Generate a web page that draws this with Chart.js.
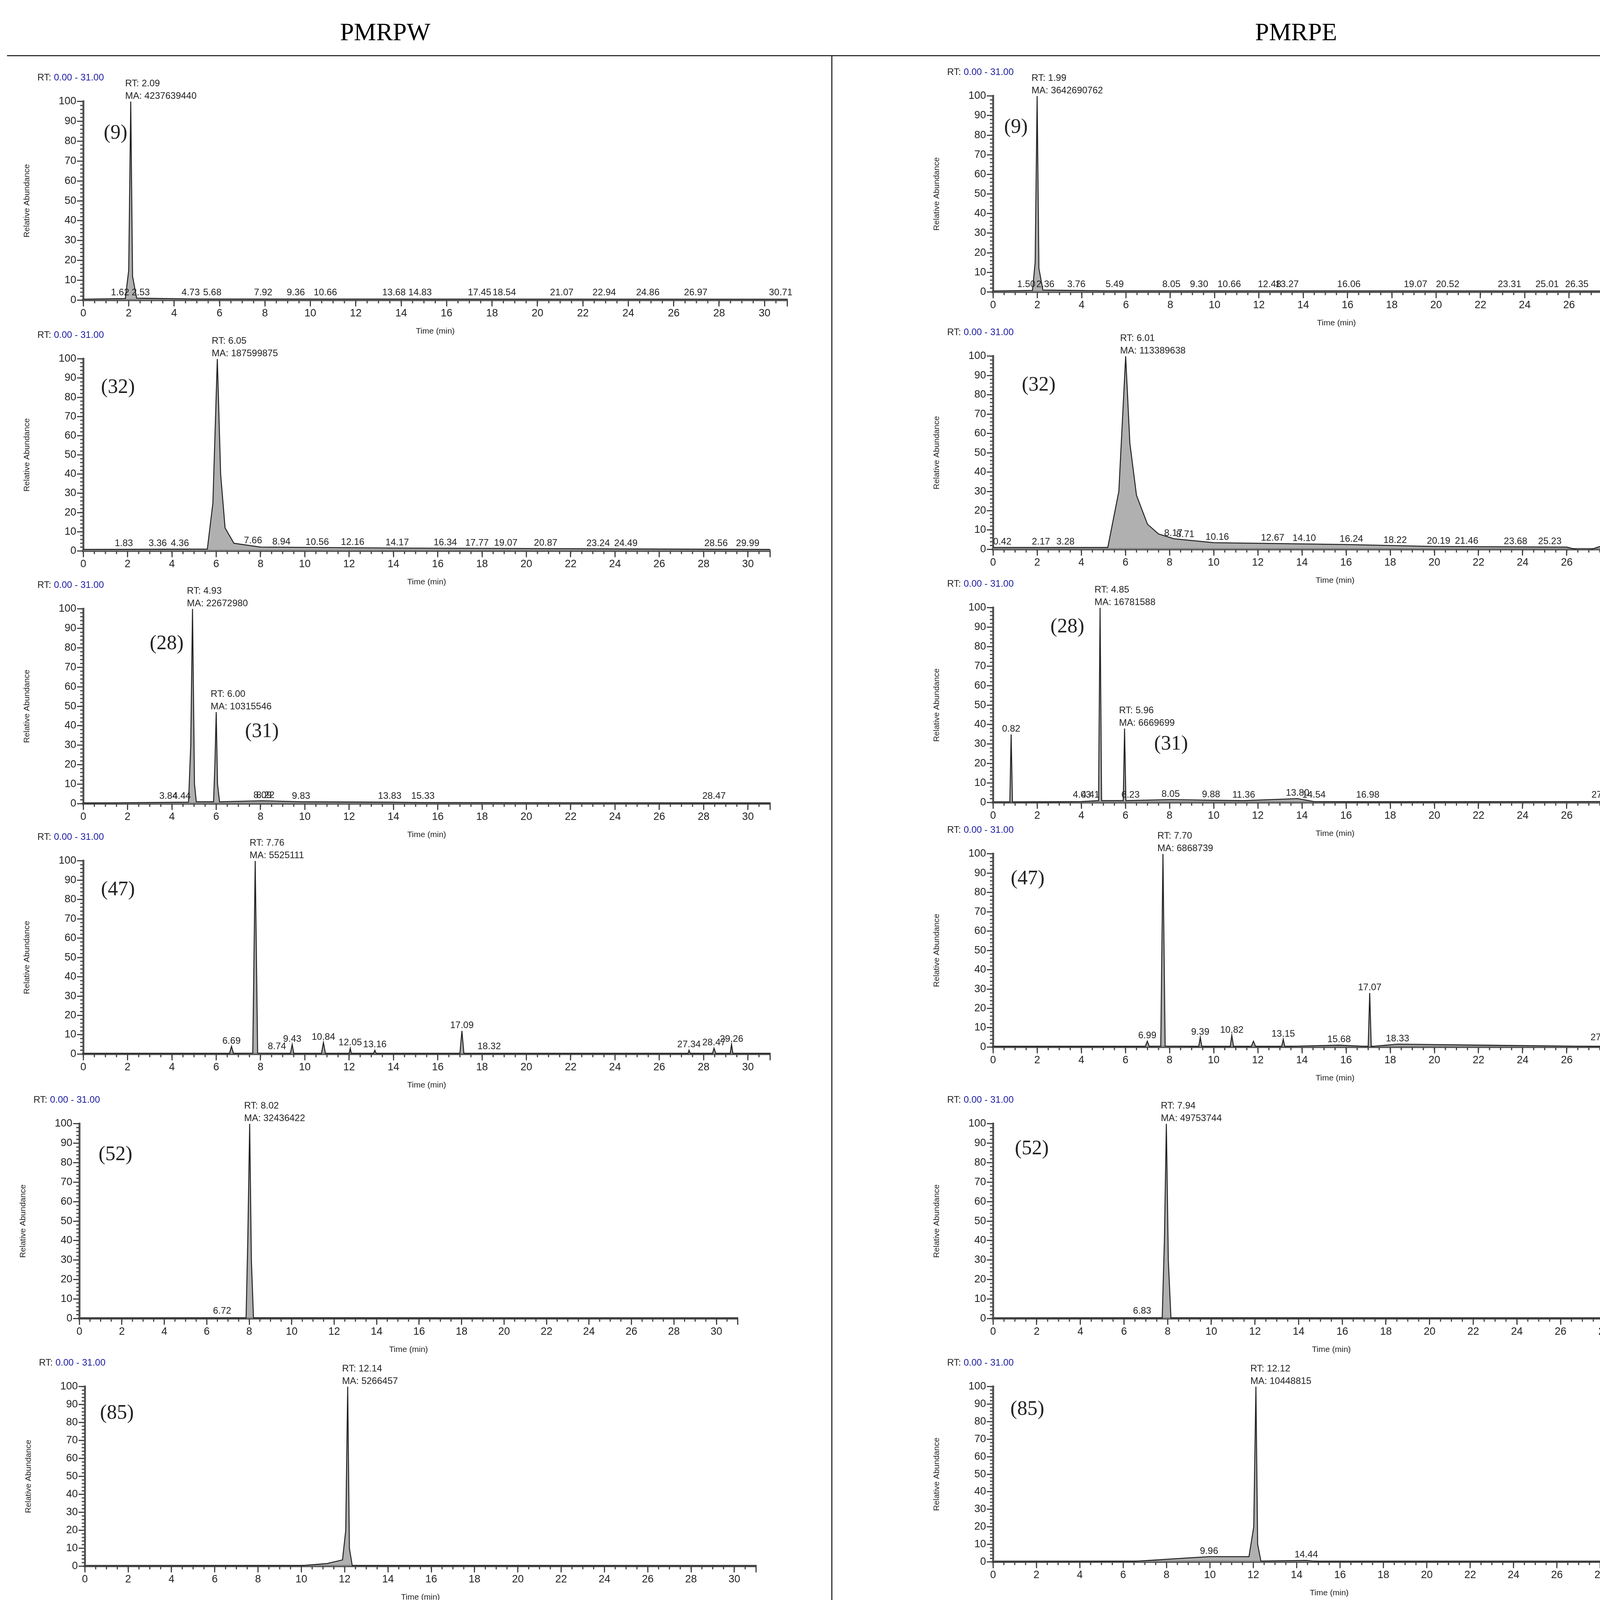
<!DOCTYPE html>
<html><head><meta charset="utf-8">
<script src="https://cdn.jsdelivr.net/npm/chart.js@4"></script>
<style>
body{margin:0;background:#fff;width:4415px;height:5598px;position:relative;overflow:hidden}
canvas{position:absolute}
.t{position:absolute;font-family:"Liberation Serif",serif;font-size:64px;transform:translateX(-50%)}
.ln{position:absolute;background:#333}
</style></head><body>
<div class="t" style="left:986px;top:45px">PMRPW</div>
<div class="t" style="left:3318px;top:45px">PMRPE</div>
<div class="ln" style="left:18px;top:141px;width:4345px;height:3px"></div>
<div class="ln" style="left:2128px;top:141px;width:3px;height:5415px"></div>
<script>
'use strict';
const S = 3.56;

// traces [rt, relative abundance]
const traceL1 = [[0,0.5],[1.85,0.8],[2.0,15],[2.09,100],[2.17,12],[2.35,1],[5,0.6],[31,0.5]];
const traceR1 = [[0,0.5],[1.78,0.8],[1.9,15],[1.99,100],[2.07,12],[2.25,1],[5,0.6],[31,0.5]];
const traceL2 = [[0,0.8],[5.6,1],[5.85,25],[6.05,100],[6.2,40],[6.4,12],[6.8,4],[8,2],[14,1.5],[31,0.8]];
const traceR2 = [[0,1],[5.2,1],[5.7,30],[6.01,100],[6.2,55],[6.5,28],[7,13],[7.5,8],[8.2,5.5],[10,3.5],[16,2.5],[20,1.5],[26,1.2],[26.8,-1.2],[27.5,1.5],[29,3],[29.4,6.5],[29.8,6],[30.5,6],[31,7]];
const traceL3 = [[0,0.3],[4.75,0.8],[4.85,30],[4.93,100],[5.02,10],[5.1,1],[5.88,1],[5.94,20],[6.0,47],[6.06,10],[6.15,1],[8.09,1.5],[9.83,1],[13.83,0.8],[15.33,0.6],[31,0.3]];
const traceR3 = [[0,0],[0.76,0],[0.82,35],[0.88,0],[4.0,0.5],[4.78,1],[4.85,100],[4.92,1],[5.9,1],[5.96,38],[6.02,1],[8.05,1.5],[9.88,1.2],[11.36,1],[13.8,2],[14.54,0.5],[17,0.3],[27.65,0.5],[31,0.3]];
const traceL4 = [[0,0.3],[6.6,0.3],[6.69,4],[6.78,0.3],[7.65,0.5],[7.76,100],[7.87,0.5],[9.35,0.3],[9.43,5],[9.5,0.3],[10.75,0.3],[10.84,6],[10.93,0.3],[12.0,0.3],[12.05,3],[12.1,0.3],[13.1,0.3],[13.16,2],[13.22,0.3],[17.0,0.3],[17.09,12],[17.18,0.3],[27.3,0.3],[27.34,2],[27.4,0.3],[28.4,0.3],[28.47,3],[28.55,0.3],[29.2,0.3],[29.26,5],[29.32,0.3],[31,0.3]];
const traceR4 = [[0,0.3],[6.9,0.3],[6.99,3],[7.08,0.3],[7.6,0.5],[7.7,100],[7.8,0.5],[9.32,0.3],[9.39,5],[9.46,0.3],[10.75,0.3],[10.82,6],[10.9,0.3],[11.7,0.3],[11.8,3],[11.9,0.3],[13.08,0.3],[13.15,4],[13.22,0.3],[15.68,1],[17.0,0.3],[17.07,28],[17.14,0.3],[18.33,1.5],[27.55,0.3],[27.61,2],[27.67,0.3],[28.63,0.3],[28.69,3],[28.75,0.3],[31,0.3]];
const traceL5 = [[0,0],[7.85,0.3],[7.93,40],[8.02,100],[8.1,30],[8.2,0.3],[31,0]];
const traceR5 = [[0,0],[7.75,0.3],[7.85,40],[7.94,100],[8.03,30],[8.15,0.3],[31,0]];
const traceL6 = [[0,0],[10,0.3],[11.2,1.5],[11.9,3.5],[12.05,20],[12.14,100],[12.22,10],[12.35,0.3],[31,0]];
const traceR6 = [[0,0],[6.5,0.3],[8,1.5],[9.96,3],[11.8,3],[12.02,20],[12.12,100],[12.2,10],[12.35,0.5],[14.44,0.8],[15,0.2],[31,0]];
const traceL7 = [[0,0.3],[13.5,1],[13.6,30],[13.66,100],[13.72,20],[13.85,1],[16.25,0.5],[16.31,3],[16.37,0.5],[16.72,0.5],[16.78,6],[16.84,0.5],[17.54,0.8],[31,0.3]];
const traceR7 = [[0,0.3],[13.48,1],[13.58,30],[13.65,100],[13.72,20],[13.85,1],[16.25,0.5],[16.31,3],[16.37,0.5],[16.7,0.5],[16.75,5],[16.8,0.5],[17.02,0.5],[17.07,8],[17.12,0.5],[22.55,0.5],[22.64,4],[22.73,0.5],[31,0.3]];
const traceL8 = [[0,0],[20.25,0.5],[20.33,40],[20.4,100],[20.47,30],[20.6,1],[20.84,1],[31,0]];
const traceR8 = [[0,0],[20.25,0.5],[20.33,40],[20.4,100],[20.47,30],[20.6,1],[21.42,1],[31,0]];

// main peak annotations [rt, MA]
const mainL = [[[2.09,'4237639440']],[[6.05,'187599875']],[[4.93,'22672980'],[6.00,'10315546']],[[7.76,'5525111']],[[8.02,'32436422']],[[12.14,'5266457']],[[13.66,'187344509']],[[20.40,'4512341510']]];
const mainR = [[[1.99,'3642690762']],[[6.01,'113389638']],[[4.85,'16781588'],[5.96,'6669699']],[[7.70,'6868739']],[[7.94,'49753744']],[[12.12,'10448815']],[[13.65,'394975616']],[[20.40,'773950089']]];

// minor peak labels
const labelsL = [
  [1.62,2.53,4.73,5.68,7.92,9.36,10.66,13.68,14.83,17.45,18.54,21.07,22.94,24.86,26.97,30.71],
  [1.83,3.36,4.36,7.66,8.94,10.56,12.16,14.17,16.34,17.77,19.07,20.87,23.24,24.49,28.56,29.99],
  [3.84,4.44,8.09,8.22,9.83,13.83,15.33,28.47],
  [6.69,8.74,9.43,10.84,12.05,13.16,17.09,18.32,27.34,28.47,29.26],
  [6.72], [],
  [3.35,4.57,6.84,8.52,9.59,11.02,13.23,16.31,16.78,17.54,21.49,22.69,24.77,28.45],
  [2.82,3.95,6.00,7.05,8.94,9.95,12.07,13.52,14.48,16.75,20.18,20.84,21.78,24.82,26.71,27.64,30.69]
];
const labelsR = [
  [1.50,2.36,3.76,5.49,8.05,9.30,10.66,12.48,13.27,16.06,19.07,20.52,23.31,25.01,26.35,30.36],
  [0.42,2.17,3.28,8.17,8.71,10.16,12.67,14.10,16.24,18.22,20.19,21.46,23.68,25.23,29.03,29.61],
  [0.82,4.03,4.41,6.23,8.05,9.88,11.36,13.80,14.54,16.98,27.65,28.44],
  [6.99,9.39,10.82,13.15,15.68,17.07,18.33,27.61,28.69],
  [6.83], [9.96,14.44],
  [4.45,6.00,8.87,9.57,11.00,13.22,16.31,16.75,17.07,17.52,22.35,22.64,23.31,25.19,27.65,28.82],
  [12.02,13.46,16.70,21.42,23.25,24.80]
];

// compound numbers [text, rt, abundance]
const tagsL = [[['(9)',0.9,84]],[['(32)',0.8,85]],[['(28)',3.0,82],['(31)',7.3,37]],[['(47)',0.8,85]],[['(52)',0.9,84]],[['(85)',0.7,85]],[['(90)',0.7,88]],[['(103)',0.7,88]]];
const tagsR = [[['(9)',0.5,84]],[['(32)',1.3,85]],[['(28)',2.6,90],['(31)',7.3,30]],[['(47)',0.8,87]],[['(52)',1.0,87]],[['(85)',0.8,87]],[['(90)',0.8,90]],[['(103)',1.0,86]]];

const tracesL = [traceL1,traceL2,traceL3,traceL4,traceL5,traceL6,traceL7,traceL8];
const tracesR = [traceR1,traceR2,traceR3,traceR4,traceR5,traceR6,traceR7,traceR8];

// panel geometry in reference display units: [top100, bottom0, x0, x30]
const geoL = [[73,216,60,550],[258,396,60,538],[438,578,60,538],[619,758,60,538],[808,948,57,515],[997,1126,61,528],[1187,1335,60,528],[1378,1518,57,505]];
const geoR = [[69,210,714,1192],[256,395,714,1190],[437,577,714,1190],[614,753,714,1190],[808,948,714,1185],[997,1123,714,1182],[1187,1333,714,1182],[1380,1518,714,1182]];

const SANS = '"Liberation Sans", Arial, sans-serif';

function heightAt(trace, x) {
  for (let i = 1; i < trace.length; i++) {
    const a = trace[i-1], b = trace[i];
    if (x >= a[0] && x <= b[0]) return a[1] + (b[1]-a[1])*(x-a[0])/((b[0]-a[0])||1);
  }
  return 0;
}

const annotate = {
  id: 'annotate',
  afterDraw(chart) {
    const o = chart.options.plugins.annotate;
    const ctx = chart.ctx, xs = chart.scales.x, ys = chart.scales.y, ca = chart.chartArea;
    ctx.save();
    // minor ticks
    ctx.strokeStyle = '#444'; ctx.lineWidth = 3;
    ctx.beginPath();
    for (let v = 0; v <= 31; v += 0.5) { const px = xs.getPixelForValue(v); ctx.moveTo(px, ca.bottom); ctx.lineTo(px, ca.bottom + 8); }
    for (let v = 0; v <= 100; v += 2) { const py = ys.getPixelForValue(v); ctx.moveTo(ca.left, py); ctx.lineTo(ca.left - 8, py); }
    ctx.stroke();
    // header
    ctx.font = '24px ' + SANS; ctx.textBaseline = 'alphabetic'; ctx.textAlign = 'left';
    const hx = ca.left - 33*S, hy = ca.top - 15*S;
    ctx.fillStyle = '#222'; ctx.fillText('RT:', hx, hy);
    ctx.fillStyle = '#1a1aa0'; ctx.fillText(' 0.00 - 31.00', hx + ctx.measureText('RT:').width, hy);
    // main peaks
    ctx.fillStyle = '#222';
    o.main.forEach(([rt, ma]) => {
      const px = xs.getPixelForValue(rt) - 4*S;
      const py = ys.getPixelForValue(heightAt(o.trace, rt)) - 2*S;
      ctx.fillText('RT: ' + rt.toFixed(2), px, py - 9*S);
      ctx.fillText('MA: ' + ma, px, py);
    });
    // minor labels
    ctx.textAlign = 'center';
    o.labels.forEach(rt => {
      const h = Math.max(heightAt(o.trace, rt), 1);
      ctx.fillText(rt.toFixed(2), xs.getPixelForValue(rt), ys.getPixelForValue(h) - 2*S);
    });
    // compound tags
    ctx.font = '52px "Liberation Serif", serif'; ctx.textAlign = 'left'; ctx.textBaseline = 'middle';
    o.tags.forEach(([t, x, y]) => ctx.fillText(t, xs.getPixelForValue(x), ys.getPixelForValue(y)));
    ctx.restore();
  }
};

function makePanel(g, trace, main, labels, tags) {
  const [top, bot, x0, x30] = g;
  const xend = x0 + (x30 - x0) * 31 / 30;
  const yw = 45, xh = 26, pt = 30, pr = 10;
  const c = document.createElement('canvas');
  c.width = Math.round((xend - x0 + yw + pr) * S);
  c.height = Math.round((bot - top + pt + xh) * S);
  c.style.left = Math.round((x0 - yw) * S) + 'px';
  c.style.top = Math.round((top - pt) * S) + 'px';
  document.body.appendChild(c);
  new Chart(c, {
    type: 'line',
    data: { datasets: [{ data: trace.map(p => ({ x: p[0], y: p[1] })), borderColor: '#222', borderWidth: 2.5,
      backgroundColor: 'rgba(150,150,150,0.75)', fill: 'origin', pointRadius: 0, tension: 0 }] },
    options: {
      responsive: false, devicePixelRatio: 1, animation: false,
      layout: { padding: { top: pt*S, right: pr*S, left: 0, bottom: 0 } },
      plugins: { legend: { display: false }, tooltip: { enabled: false },
        annotate: { trace, main, labels, tags } },
      scales: {
        x: { type: 'linear', min: 0, max: 31, afterFit: s => { s.height = xh*S; },
          ticks: { stepSize: 2, autoSkip: false, color: '#222', font: { size: 27, family: SANS }, padding: 2,
            callback: v => (v % 2 === 0 && v <= 30) ? v : '' },
          grid: { drawOnChartArea: false, tickLength: 16, color: '#444', lineWidth: 3 },
          border: { color: '#555', width: 6 },
          title: { display: true, text: 'Time (min)', color: '#222', font: { size: 21, family: SANS }, padding: 0 } },
        y: { min: 0, max: 100, afterFit: s => { s.width = yw*S; },
          ticks: { stepSize: 10, color: '#222', font: { size: 27, family: SANS }, padding: 2 },
          grid: { drawOnChartArea: false, tickLength: 16, color: '#444', lineWidth: 3 },
          border: { color: '#555', width: 5 },
          title: { display: true, text: 'Relative Abundance', color: '#222', font: { size: 21, family: SANS }, padding: 4 } }
      }
    },
    plugins: [annotate]
  });
}

for (let i = 0; i < 8; i++) {
  makePanel(geoL[i], tracesL[i], mainL[i], labelsL[i], tagsL[i]);
  makePanel(geoR[i], tracesR[i], mainR[i], labelsR[i], tagsR[i]);
}
</script>
</body></html>
